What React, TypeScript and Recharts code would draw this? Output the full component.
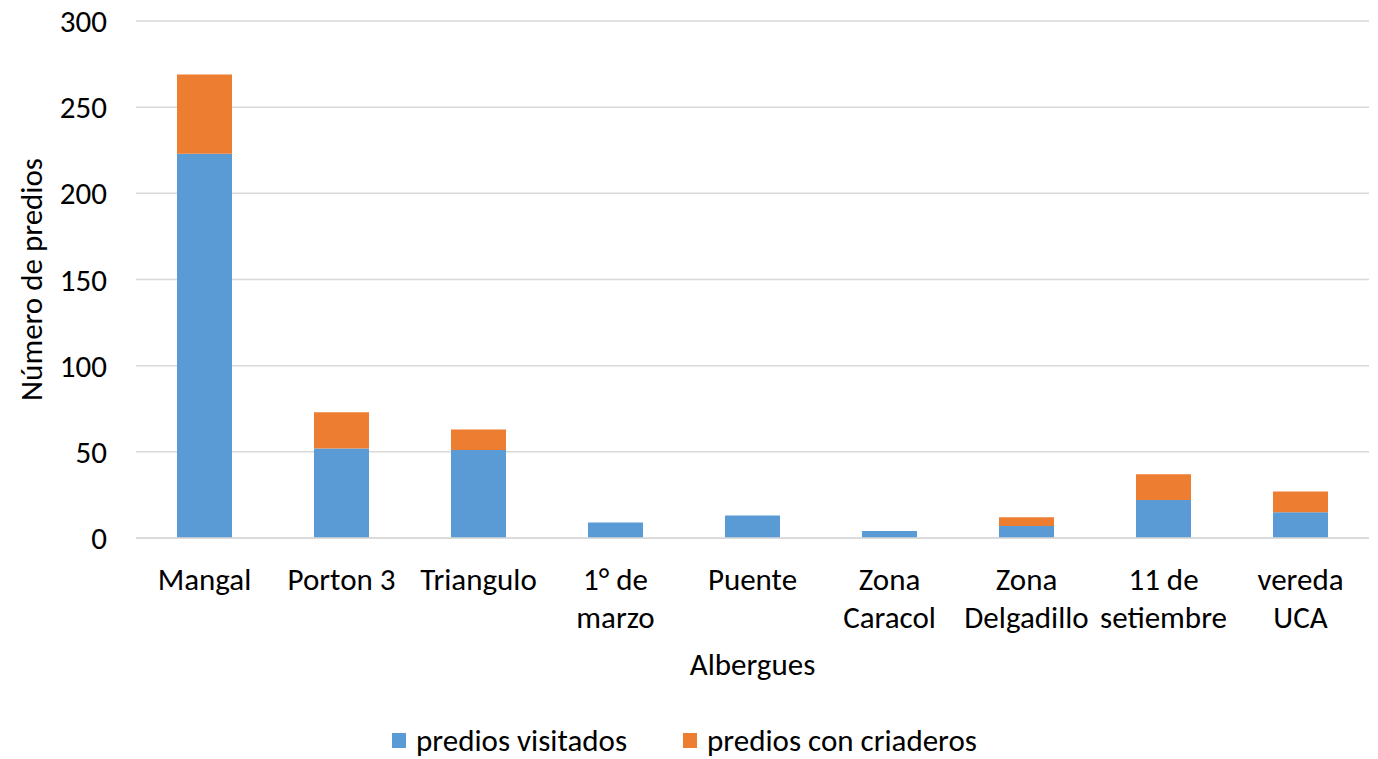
import { BarChart, Bar, XAxis, YAxis, CartesianGrid, Legend, Label } from 'recharts';

const FONT = 'Carlito, Lato, sans-serif';
const FS = 31;

const albergues = [
  'Mangal',
  'Porton 3',
  'Triangulo',
  '1° de\nmarzo',
  'Puente',
  'Zona\nCaracol',
  'Zona\nDelgadillo',
  '11 de\nsetiembre',
  'vereda\nUCA',
];
const visitados = [223, 52, 51, 9, 13, 4, 7, 22, 15];
const criaderos = [46, 21, 12, 0, 0, 0, 5, 15, 12];
const yTicks = [0, 50, 100, 150, 200, 250, 300];
const seriesOrder = ['visitados', 'criaderos'];

const data = albergues.map((name, i) => ({
  name,
  visitados: visitados[i],
  criaderos: criaderos[i],
}));

const CategoryTick = (props: any) => {
  const { x, y, payload } = props;
  const lines = String(payload.value).split('\n');
  return (
    <text x={x} y={y} textAnchor="middle" fill="#000" fontSize={FS} fontFamily={FONT}>
      {lines.map((line, i) => (
        <tspan key={i} x={x} y={y + 44 + i * 38}>
          {line}
        </tspan>
      ))}
    </text>
  );
};

const LegendContent = (props: any) => {
  const items = [...(props.payload || [])].sort(
    (a: any, b: any) => seriesOrder.indexOf(a.dataKey) - seriesOrder.indexOf(b.dataKey)
  );
  return (
    <div style={{ display: 'flex', justifyContent: 'center', fontFamily: FONT, fontSize: FS, color: '#000' }}>
      {items.map((entry: any, i: number) => (
        <div key={i} style={{ display: 'flex', alignItems: 'center', marginLeft: i ? 56 : 0 }}>
          <span style={{ width: 14, height: 15, background: entry.color, marginRight: 10, display: 'inline-block' }} />
          <span>{entry.value}</span>
        </div>
      ))}
    </div>
  );
};

export default function App() {
  return (
    <div style={{ position: 'absolute', left: 0, top: 0, background: '#fff' }}>
      <BarChart
        width={1378}
        height={759}
        data={data}
        margin={{ top: 21, right: 9, left: 0, bottom: 3 }}
        barSize={55}
      >
        <CartesianGrid vertical={false} stroke="#D9D9D9" strokeWidth={1.5} />
        <XAxis
          dataKey="name"
          interval={0}
          tickLine={false}
          axisLine={{ stroke: '#D9D9D9', strokeWidth: 1.5 }}
          tick={<CategoryTick />}
          height={180}
        >
          <Label
            content={(p: any) => {
              const vb = p.viewBox;
              return (
                <text x={vb.x + vb.width / 2} y={vb.y + 137} textAnchor="middle" fontSize={FS} fontFamily={FONT} fill="#000">
                  Albergues
                </text>
              );
            }}
          />
        </XAxis>
        <YAxis
          width={136}
          domain={[0, 300]}
          ticks={yTicks}
          tickLine={false}
          axisLine={false}
          tickMargin={23}
          tick={{ fill: '#000', fontSize: FS, fontFamily: FONT }}
        >
          <Label
            content={(p: any) => {
              const vb = p.viewBox;
              const cy = vb.y + vb.height / 2;
              return (
                <text
                  x={42}
                  y={cy}
                  transform={`rotate(-90 42 ${cy})`}
                  textAnchor="middle"
                  fontSize={FS}
                  fontFamily={FONT}
                  fill="#000"
                >
                  Número de predios
                </text>
              );
            }}
          />
        </YAxis>
        <Legend verticalAlign="bottom" content={<LegendContent />} wrapperStyle={{ bottom: 0 }} />
        <Bar dataKey="visitados" name="predios visitados" stackId="a" fill="#5B9BD5" isAnimationActive={false} />
        <Bar dataKey="criaderos" name="predios con criaderos" stackId="a" fill="#ED7D31" isAnimationActive={false} />
      </BarChart>
    </div>
  );
}
